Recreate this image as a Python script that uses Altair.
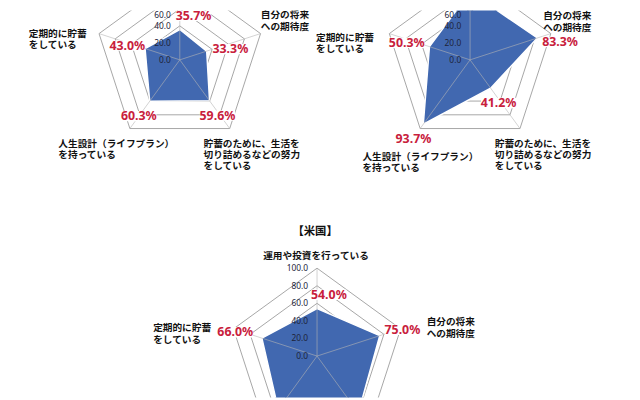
import math
import altair as alt
import pandas as pd

# ---------------- data ----------------
categories = [
    "運用や投資を行っている",
    "自分の将来への期待度",
    "貯蓄のために、生活を切り詰めるなどの努力をしている",
    "人生設計（ライフプラン）を持っている",
    "定期的に貯蓄をしている",
]
category_text = [
    "運用や投資を行っている",
    "自分の将来\nへの期待度",
    "貯蓄のために、生活を\n切り詰めるなどの努力\nをしている",
    "人生設計（ライフプラン）\nを持っている",
    "定期的に貯蓄\nをしている",
]
values_a = [35.7, 33.3, 59.6, 60.3, 43.0]   # top-left panel
values_b = [80.0, 83.3, 41.2, 93.7, 50.3]   # top-right panel
values_us = [54.0, 75.0, 80.0, 75.0, 66.0]  # bottom panel (米国)
ticks = [0, 20, 40, 60, 80, 100]
tick_labels = ["0.0", "20.0", "40.0", "60.0", "80.0", "100.0"]
title_us = "【米国】"

# ---------------- layout (page pixels) ----------------
PANELS = {
    "a": {"values": values_a, "cx": 182, "cy": 58, "r": 86, "title": None},
    "b": {"values": values_b, "cx": 476, "cy": 58, "r": 86, "title": None},
    "c": {"values": values_us, "cx": 321, "cy": 358, "r": 89, "title": title_us},
}
VALUE_OFF = {
    "a": [(14, -14), (24, -2), (8, 15), (-11, 15), (-18, -3)],
    "b": [(14, -14), (23, 4), (8, 15), (-10, 15), (-23, -4)],
    "c": [(12, -14), (23, -6), (8, 15), (-10, 15), (-27, -6)],
}
CAT_OFF = {
    "a": [(0, -106), (82, -50), (24, 80), (-123, 80), (-153, -31)],
    "b": [(0, -106), (74, -49), (25, 80), (-109, 93), (-156, -27)],
    "c": [(-1, -106), (111, -39), (24, 85), (-123, 85), (-166, -33)],
}
VISIBLE_Y = (0, 400)   # the reference shows only this band of the figure

BLUE = "#4168B0"
RED = "#C8203C"
GRID = "#9C9C9C"
FONT_JP = "Noto Sans CJK JP"
BOX = "M -1.7 -0.5 L 1.7 -0.5 L 1.7 0.5 L -1.7 0.5 Z"


def angle(i):
    return math.radians(90 - 72 * i)


def pt(p, i, val):
    c = PANELS[p]
    s = c["r"] * val / 100.0
    return c["cx"] + s * math.cos(angle(i)), c["cy"] - s * math.sin(angle(i))


def visible(y):
    return VISIBLE_Y[0] <= y <= VISIBLE_Y[1]


rings, poly, spokes, tick_rows, val_rows, cat_rows, title_rows = [], [], [], [], [], [], []
for p, c in PANELS.items():
    for t in ticks[1:]:
        for i in range(5):
            x, y = pt(p, i, t)
            rings.append({"g": f"{p}-{t}", "o": i, "x": x, "y": y})
    for i, v in enumerate(c["values"]):
        x, y = pt(p, i, v)
        poly.append({"g": p, "o": i, "x": x, "y": y})
        dx, dy = VALUE_OFF[p][i]
        if visible(y + dy):
            val_rows.append({"x": x + dx, "y": y + dy, "text": f"{v:.1f}%"})
        x0, y0 = pt(p, i, 100)
        spokes.append({"x": c["cx"], "y": c["cy"], "x2": x0, "y2": y0})
        cdx, cdy = CAT_OFF[p][i]
        if visible(c["cy"] + cdy):
            cat_rows.append({"x": c["cx"] + cdx, "y": c["cy"] + cdy,
                             "text": category_text[i], "center": i == 0})
    for t, lab in zip(ticks, tick_labels):
        ty = c["cy"] - c["r"] * t / 100.0
        if visible(ty):
            tick_rows.append({"x": c["cx"] - 9, "y": max(ty, 12.5), "text": lab})
    if c["title"]:
        title_rows.append({"x": c["cx"] - 2, "y": c["cy"] - 126, "text": c["title"]})

xs = alt.Scale(domain=[8, 640], nice=False, zero=False)
ys = alt.Scale(domain=[8, 400], nice=False, zero=False, reverse=True)
X = alt.X("x:Q", scale=xs, axis=None)
Y = alt.Y("y:Q", scale=ys, axis=None)

ring_layer = alt.Chart(pd.DataFrame(rings)).mark_line(
    interpolate="linear-closed", stroke=GRID, strokeWidth=0.9, clip=True
).encode(x=X, y=Y, detail="g:N", order="o:Q")

poly_layer = alt.Chart(pd.DataFrame(poly)).mark_line(
    interpolate="linear-closed", fill=BLUE, stroke="white", strokeWidth=1.5, clip=True
).encode(x=X, y=Y, detail="g:N", order="o:Q")

spoke_layer = alt.Chart(pd.DataFrame(spokes)).mark_rule(
    stroke="#B4B4B4", strokeWidth=1, opacity=0.6, clip=True
).encode(x=X, y=Y, x2="x2:Q", y2="y2:Q")

tick_layer = alt.Chart(pd.DataFrame(tick_rows)).mark_text(
    align="right", baseline="middle", fontSize=8.5, font="Noto Sans",
    color="#1E2438", clip=True
).encode(x=X, y=Y, text="text:N")

cat_df = pd.DataFrame(cat_rows)
cat_center = alt.Chart(cat_df[cat_df["center"]]).mark_text(
    align="center", baseline="top", fontSize=9.8, font=FONT_JP, fontWeight="bold",
    color="#111111", lineBreak="\n", lineHeight=11.5, clip=True
).encode(x=X, y=Y, text="text:N")
cat_left = alt.Chart(cat_df[~cat_df["center"]]).mark_text(
    align="left", baseline="top", fontSize=9.8, font=FONT_JP, fontWeight="bold",
    color="#111111", lineBreak="\n", lineHeight=11.5, clip=True
).encode(x=X, y=Y, text="text:N")

val_df = pd.DataFrame(val_rows)
val_box = alt.Chart(val_df).mark_point(
    shape=BOX, filled=True, color="white", opacity=1, size=440, strokeWidth=0, clip=True
).encode(x=X, y=Y)
val_text = alt.Chart(val_df).mark_text(
    align="center", baseline="middle", fontSize=12.5, font="Noto Sans", fontWeight="bold",
    color=RED, clip=True
).encode(x=X, y=Y, text="text:N")

title_layer = alt.Chart(pd.DataFrame(title_rows)).mark_text(
    align="center", baseline="middle", fontSize=11.5, font=FONT_JP, fontWeight="bold",
    color="#111111", clip=True
).encode(x=X, y=Y, text="text:N")

chart = alt.layer(
    ring_layer, poly_layer, spoke_layer, val_box, tick_layer,
    cat_center, cat_left, val_text, title_layer
).properties(
    width=632, height=392, padding=0, autosize=alt.AutoSizeParams(type="none"),
    background="white"
).configure_view(stroke=None)

chart.save("out.html", embed_options={"renderer": "svg", "actions": False})
